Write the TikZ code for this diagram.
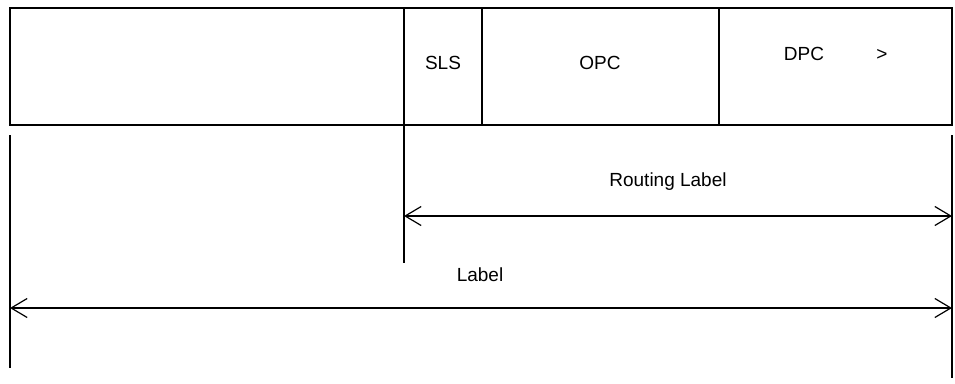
\documentclass[tikz,border=0pt]{standalone}
\usepackage{fontspec}
\setmainfont{Liberation Sans}
\usetikzlibrary{arrows.meta}
\begin{document}
\begin{tikzpicture}[x=1pt,y=1pt,
  field/.style={draw, line width=1.2pt, minimum height=117pt, inner sep=0pt, outer sep=0pt, anchor=north west},
  txt/.style={font=\fontsize{19}{22}\selectfont, inner sep=0pt, anchor=base},
  vline/.style={line width=1.2pt},
  barb/.style={Straight Barb[length=16pt,width=19pt,line width=1.2pt]},
  dimline/.style={line width=1.2pt, {Straight Barb[length=16pt,width=19pt,line width=1.2pt]}-{Straight Barb[length=16pt,width=19pt,line width=1.2pt]}}
]
\useasboundingbox (0,0) rectangle (955,-383);
% fields
\node[field, minimum width=394pt] (f0) at (10,-8) {};
\node[field, minimum width=78pt] (fsls) at (404,-8) {};
\node[field, minimum width=237pt] (fopc) at (482,-8) {};
\node[field, minimum width=233pt] (fdpc) at (719,-8) {};
% texts
\node[txt] (tsls) at (443,-69) {SLS};
\node[txt] (topc) at (600,-69) {OPC};
\node[txt] (tdpc) at (804,-60) {DPC};
\node[txt] (tgt) at (882,-60) {>};
\node[txt] (trl) at (668,-186) {Routing Label};
\node[txt] (tl) at (480,-281) {Label};
% extension lines
\coordinate (l1) at (10,-135);
\coordinate (l2) at (10,-368);
\coordinate (m1) at (fsls.south west);
\coordinate (m2) at (404,-263);
\coordinate (r1) at (952,-135);
\coordinate (r2) at (952,-378);
\draw[vline] (l1) -- (l2);
\draw[vline] (m1) -- (m2);
\draw[vline] (r1) -- (r2);
% dimension arrows
\coordinate (ra) at (404,-216);
\coordinate (rb) at (952,-216);
\coordinate (la) at (10,-308);
\coordinate (lb) at (952,-308);
\draw[dimline] (ra) -- (rb);
\draw[dimline] (la) -- (lb);
\end{tikzpicture}
\end{document}
